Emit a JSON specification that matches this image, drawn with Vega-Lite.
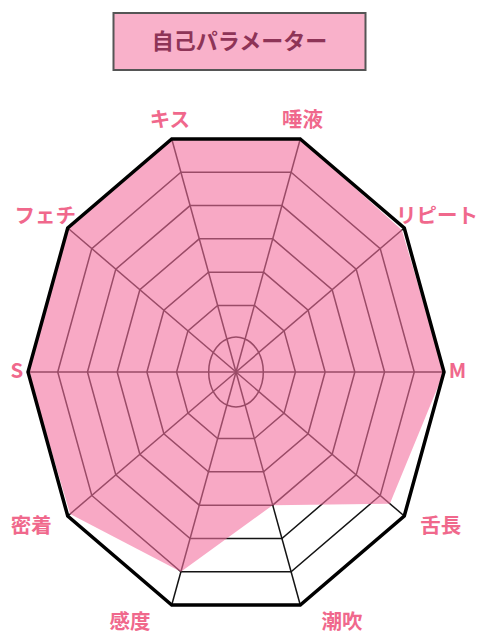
{
  "$schema": "https://vega.github.io/schema/vega-lite/v6.json",
  "background": "white",
  "padding": {"top": 12, "left": 0, "right": 0, "bottom": 0},
  "spacing": 11,
  "center": true,
  "config": {"view": {"stroke": null}},
  "datasets": {
    "title": [{"label": "自己パラメーター"}],
    "axes": [
      {"axis": "唾液", "i": 0, "value": 7, "rings": [1, 2, 3, 4, 5, 6, 7]},
      {"axis": "リピート", "i": 1, "value": 6.9, "rings": [1, 2, 3, 4, 5, 6, 7]},
      {"axis": "M", "i": 2, "value": 7, "rings": [1, 2, 3, 4, 5, 6, 7]},
      {"axis": "舌長", "i": 3, "value": 6.4, "rings": [1, 2, 3, 4, 5, 6, 7]},
      {"axis": "潮吹", "i": 4, "value": 4, "rings": [1, 2, 3, 4, 5, 6, 7]},
      {"axis": "感度", "i": 5, "value": 6, "rings": [1, 2, 3, 4, 5, 6, 7]},
      {"axis": "密着", "i": 6, "value": 6.9, "rings": [1, 2, 3, 4, 5, 6, 7]},
      {"axis": "S", "i": 7, "value": 7, "rings": [1, 2, 3, 4, 5, 6, 7]},
      {"axis": "フェチ", "i": 8, "value": 7, "rings": [1, 2, 3, 4, 5, 6, 7]},
      {"axis": "キス", "i": 9, "value": 7, "rings": [1, 2, 3, 4, 5, 6, 7]}
    ]
  },
  "vconcat": [
    {
      "width": 252,
      "height": 57,
      "view": {"fill": "#F9B1CA", "stroke": "#555555", "strokeWidth": 2},
      "data": {"name": "title"},
      "mark": {"type": "text", "font": "Noto Sans CJK JP", "fontWeight": "bold", "fontSize": 22, "color": "#8E3457", "baseline": "middle"},
      "encoding": {"text": {"field": "label"}}
    },
    {
      "width": 480,
      "height": 560,
      "data": {"name": "axes"},
      "transform": [{"calculate": "PI * (18 + 36 * datum.i) / 180", "as": "a"}],
      "layer": [
        {
          "transform": [
            {"flatten": ["rings"], "as": ["ring"]},
            {"filter": "datum.ring >= 2"},
            {"calculate": "datum.ring * sin(datum.a)", "as": "gx"},
            {"calculate": "datum.ring * cos(datum.a)", "as": "gy"}
          ],
          "mark": {"type": "line", "interpolate": "linear-closed", "stroke": "#141414", "strokeWidth": 1.5},
          "encoding": {
            "x": {"field": "gx", "type": "quantitative", "scale": {"domain": [-7.943, 8.212], "nice": false, "zero": false}, "axis": null},
            "y": {"field": "gy", "type": "quantitative", "scale": {"domain": [-7.714, 8.286], "nice": false, "zero": false}, "axis": null},
            "detail": {"field": "ring"},
            "order": {"field": "i"}
          }
        },
        {
          "transform": [
            {"calculate": "0.92 * sin(datum.a)", "as": "gx"},
            {"calculate": "cos(datum.a)", "as": "gy"}
          ],
          "mark": {"type": "line", "interpolate": "cardinal-closed", "stroke": "#141414", "strokeWidth": 1.5},
          "encoding": {
            "x": {"field": "gx", "type": "quantitative"},
            "y": {"field": "gy", "type": "quantitative"},
            "order": {"field": "i"}
          }
        },
        {
          "transform": [
            {"calculate": "7 * sin(datum.a)", "as": "ox"},
            {"calculate": "7 * cos(datum.a)", "as": "oy"}
          ],
          "mark": {"type": "rule", "stroke": "#141414", "strokeWidth": 1.5},
          "encoding": {
            "x": {"field": "ox", "type": "quantitative"},
            "y": {"field": "oy", "type": "quantitative"},
            "x2": {"datum": 0},
            "y2": {"datum": 0}
          }
        },
        {
          "transform": [
            {"calculate": "datum.value * sin(datum.a)", "as": "px"},
            {"calculate": "datum.value * cos(datum.a)", "as": "py"}
          ],
          "mark": {"type": "line", "interpolate": "linear-closed", "fill": "#F4709F", "fillOpacity": 0.6, "strokeWidth": 0},
          "encoding": {
            "x": {"field": "px", "type": "quantitative"},
            "y": {"field": "py", "type": "quantitative"},
            "order": {"field": "i"}
          }
        },
        {
          "transform": [
            {"calculate": "7 * sin(datum.a)", "as": "ox"},
            {"calculate": "7 * cos(datum.a)", "as": "oy"}
          ],
          "mark": {"type": "line", "interpolate": "linear-closed", "stroke": "#000000", "strokeWidth": 3.5, "strokeJoin": "miter"},
          "encoding": {
            "x": {"field": "ox", "type": "quantitative"},
            "y": {"field": "oy", "type": "quantitative"},
            "order": {"field": "i"}
          }
        },
        {
          "transform": [
            {"calculate": "7.16 * sin(datum.a) - 0.7 * cos(datum.a) * (sin(datum.a) < 0 ? -1 : 1)", "as": "lx"},
            {"calculate": "7.55 * cos(datum.a)", "as": "ly"}
          ],
          "mark": {"type": "text", "font": "Noto Sans CJK JP", "fontWeight": "bold", "fontSize": 20.5, "color": "#F0688C", "baseline": "middle", "align": {"expr": "datum.lx < 0 ? 'right' : 'left'"}},
          "encoding": {
            "x": {"field": "lx", "type": "quantitative"},
            "y": {"field": "ly", "type": "quantitative"},
            "text": {"field": "axis"}
          }
        }
      ]
    }
  ]
}
